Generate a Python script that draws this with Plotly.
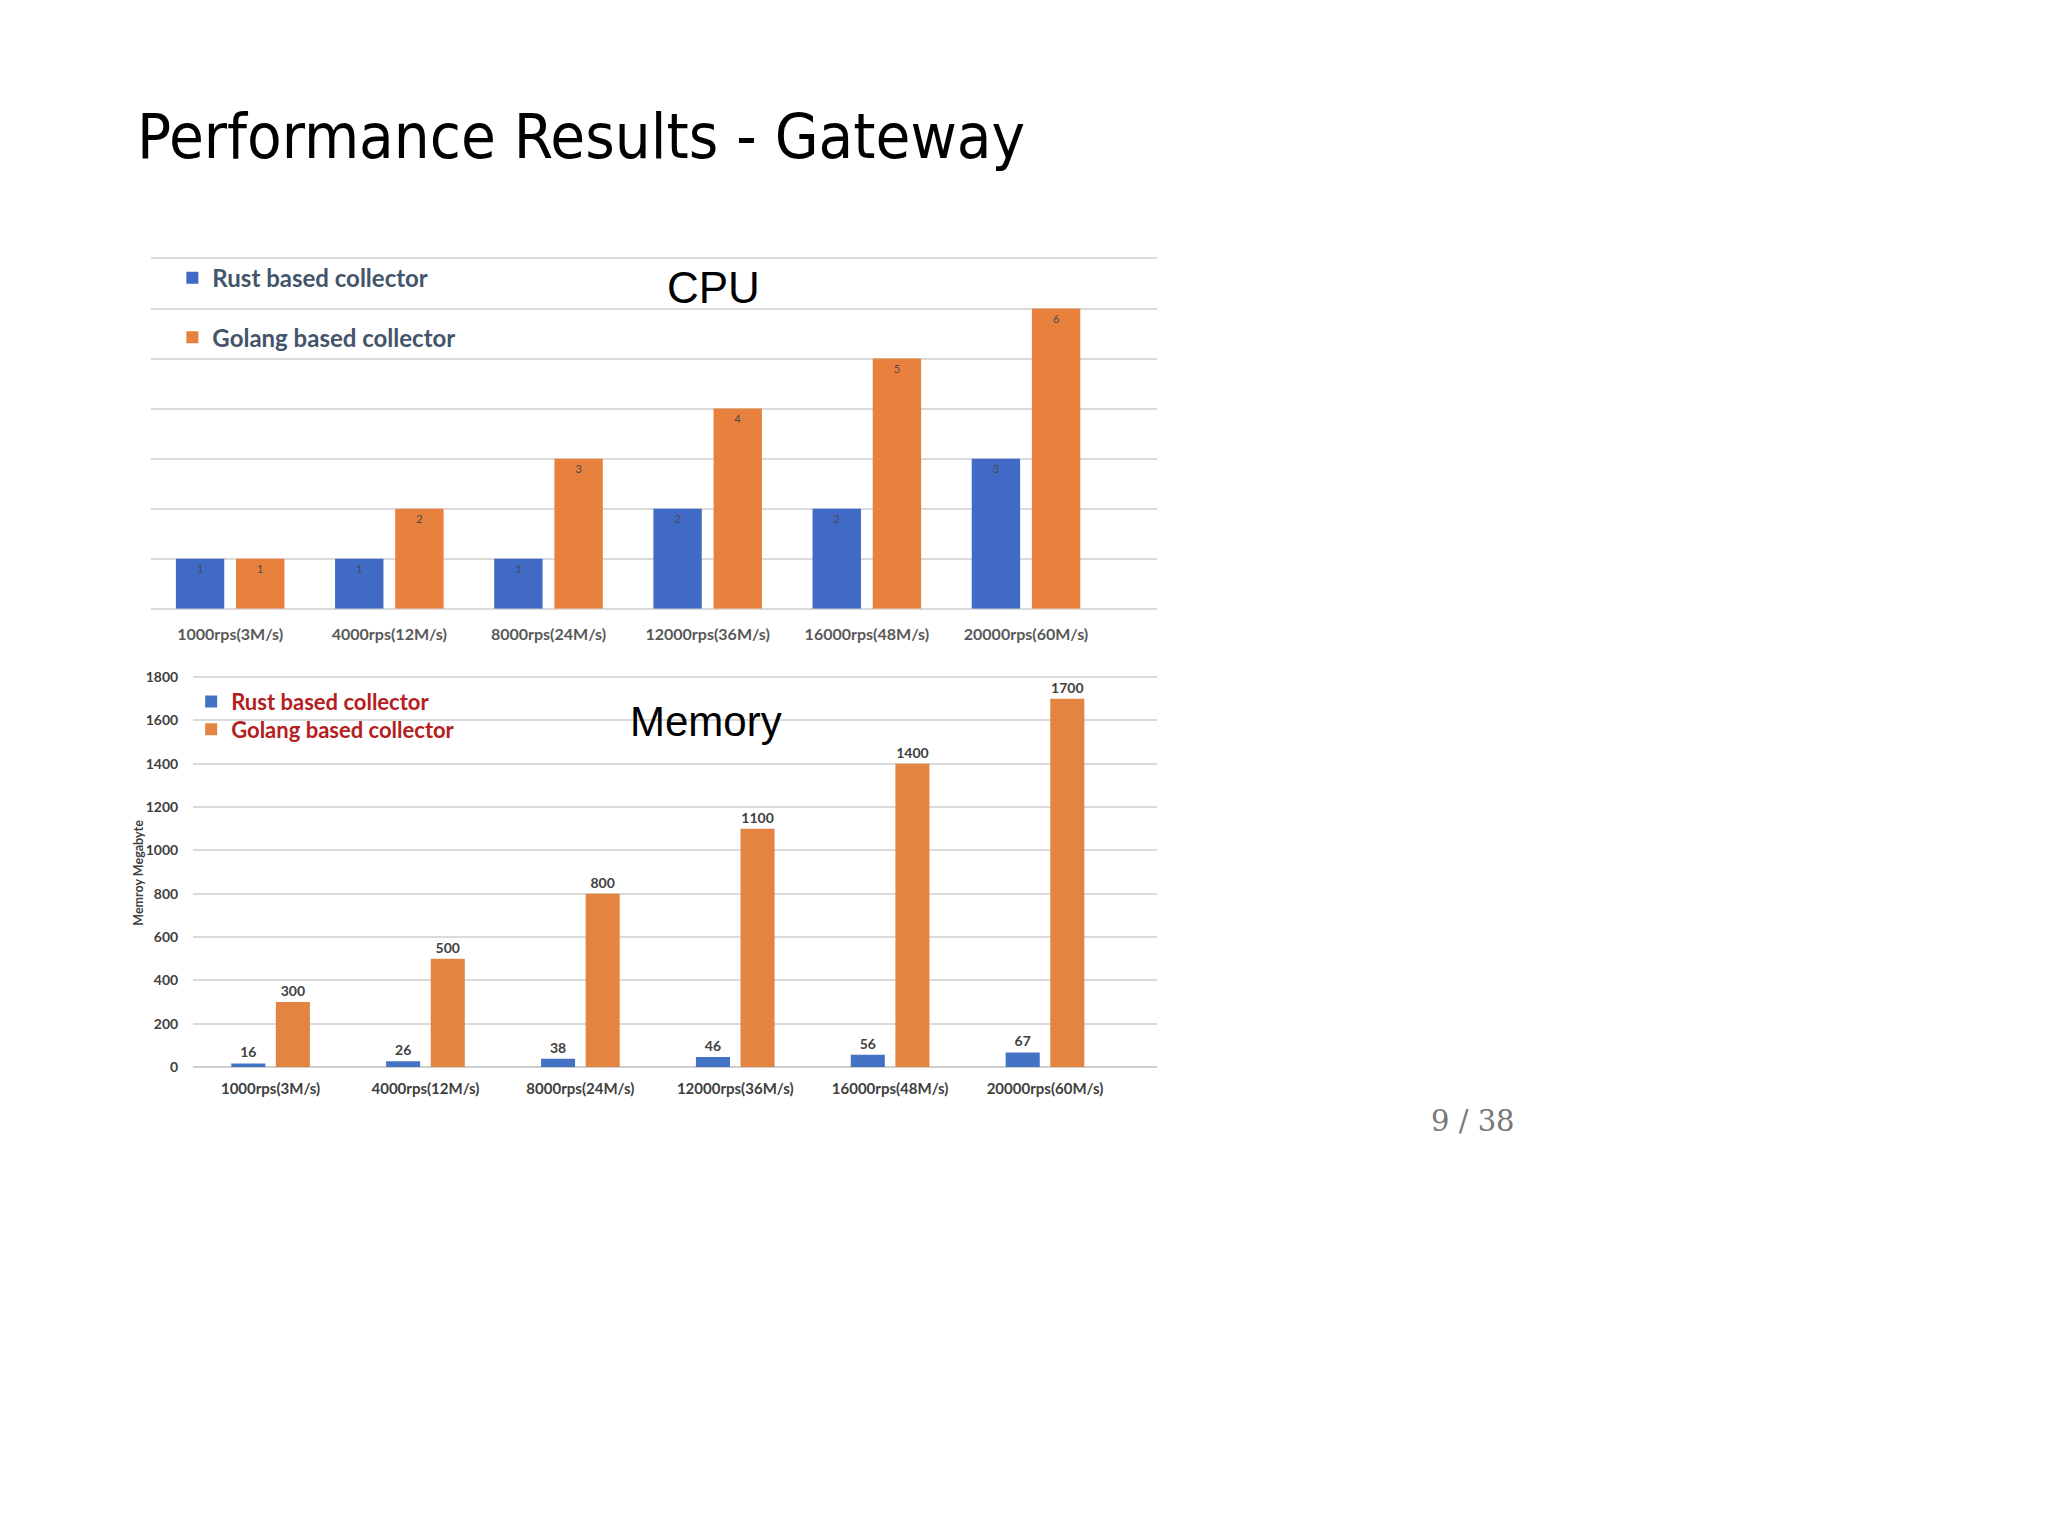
import plotly.graph_objects as go

categories = ["1000rps(3M/s)", "4000rps(12M/s)", "8000rps(24M/s)",
              "12000rps(36M/s)", "16000rps(48M/s)", "20000rps(60M/s)"]
cpu_rust = [1, 1, 1, 2, 2, 3]
cpu_golang = [1, 2, 3, 4, 5, 6]
mem_rust = [16, 26, 38, 46, 56, 67]
mem_golang = [300, 500, 800, 1100, 1400, 1700]
cpu_ticks = [0, 1, 2, 3, 4, 5, 6, 7]
mem_ticks = [0, 200, 400, 600, 800, 1000, 1200, 1400, 1600, 1800]

W, H = 2048, 1536
BODY = "Lato, 'Open Sans', sans-serif"

def px(x):
    return ((x - 8) / 1.01) / W

def py(y):
    return 1 - (y - 16) / H

fig = go.Figure()

# CPU chart
fig.add_trace(go.Bar(
    x=categories, y=cpu_rust, name="Rust based collector",
    xaxis="x", yaxis="y", legend="legend", showlegend=True,
    marker=dict(color="#4169C6", line=dict(width=0)),
    width=0.304, offset=-0.341,
    text=cpu_rust, textposition="inside", insidetextanchor="end",
    textfont=dict(size=11, color="#4a4a4a", family=BODY),
    textangle=0,
))
fig.add_trace(go.Bar(
    x=categories, y=cpu_golang, name="Golang based collector",
    xaxis="x", yaxis="y", legend="legend2", showlegend=True,
    marker=dict(color="#E8803E", line=dict(width=0)),
    width=0.304, offset=0.037,
    text=cpu_golang, textposition="inside", insidetextanchor="end",
    textfont=dict(size=11, color="#4a4a4a", family=BODY),
    textangle=0,
))

# Memory chart
fig.add_trace(go.Bar(
    x=categories, y=mem_rust, name="Rust based collector",
    xaxis="x2", yaxis="y2", legend="legend3", showlegend=True,
    marker=dict(color="#4472C4", line=dict(width=0)),
    width=0.22, offset=-0.254,
    text=mem_rust, textposition="outside", cliponaxis=False,
    textfont=dict(size=14, color="#404040", family=BODY, weight="bold"),
))
fig.add_trace(go.Bar(
    x=categories, y=mem_golang, name="Golang based collector",
    xaxis="x2", yaxis="y2", legend="legend4", showlegend=True,
    marker=dict(color="#E38540", line=dict(width=0)),
    width=0.22, offset=0.034,
    text=mem_golang, textposition="outside", cliponaxis=False,
    textfont=dict(size=14, color="#404040", family=BODY, weight="bold"),
))

grid = "#DADADA"
cpu_top = 7.1
cpu_unit = (615 - 260) / 7.02

def leg(x, y, size, color):
    return dict(
        x=px(x), y=py(y), xanchor="left", yanchor="middle", visible=True,
        bgcolor="rgba(0,0,0,0)", itemclick=False,
        font=dict(size=size, color=color, family=BODY, weight="bold"),
    )

fig.update_layout(
    width=W, height=H,
    margin=dict(l=0, r=0, t=0, b=0),
    paper_bgcolor="white", plot_bgcolor="white",
    barmode="overlay", showlegend=True,
    font=dict(family=BODY, color="#404040"),
    xaxis=dict(
        domain=[px(152), px(1168)], anchor="y", type="category",
        range=[-0.5, 5.82], showgrid=False, zeroline=False, showline=False,
        ticks="", ticklabelstandoff=14,
        tickfont=dict(size=16, color="#595959", family=BODY, weight="bold"),
    ),
    yaxis=dict(
        domain=[py(615), py(615 - cpu_top * cpu_unit)], anchor="x",
        range=[0, cpu_top],
        tickvals=cpu_ticks, showticklabels=False, showgrid=True,
        gridcolor=grid, gridwidth=2, zeroline=True, zerolinecolor=grid,
        zerolinewidth=2, showline=False,
    ),
    xaxis2=dict(
        domain=[px(195), px(1168)], anchor="y2", type="category",
        range=[-0.5, 5.72], showgrid=False, zeroline=False, showline=False,
        ticks="", ticklabelstandoff=11,
        tickfont=dict(size=15, color="#404040", family=BODY, weight="bold"),
    ),
    yaxis2=dict(
        domain=[py(1078), py(683)], anchor="x2", range=[0, 1805],
        tickvals=mem_ticks, showgrid=True, gridcolor=grid, gridwidth=1.5,
        zeroline=True, zerolinecolor="#CFCFCF", zerolinewidth=1.5,
        showline=False, ticks="", ticklabelstandoff=14,
        tickfont=dict(size=14, color="#404040", family=BODY, weight="bold"),
    ),
    legend=leg(174, 281, 24, "#44546A"),
    legend2=leg(174, 341, 24, "#44546A"),
    legend3=leg(193, 709, 22, "#B42020"),
    legend4=leg(193, 737, 22, "#B42020"),
    annotations=[
        dict(text="Performance Results - Gateway", x=px(136), y=py(138),
             xref="paper", yref="paper", xanchor="left", yanchor="middle",
             showarrow=False,
             font=dict(size=63, color="#000000",
                       family="'DejaVu Sans Condensed', 'DejaVu Sans', sans-serif")),
        dict(text="CPU", x=px(721), y=py(290), xref="paper", yref="paper",
             xanchor="center", yanchor="middle", showarrow=False,
             font=dict(size=44, color="#000000", family="'Liberation Sans', Arial, sans-serif")),
        dict(text="Memory", x=px(713), y=py(729), xref="paper", yref="paper",
             xanchor="center", yanchor="middle", showarrow=False,
             font=dict(size=42, color="#000000", family="'Liberation Sans', Arial, sans-serif")),
        dict(text="Memroy Megabyte", x=px(140), y=py(882), xref="paper", yref="paper",
             xanchor="center", yanchor="middle", showarrow=False, textangle=-90,
             font=dict(size=12.5, color="#404040", family=BODY, weight="bold")),
        dict(text="9 / 38", x=px(1488), y=py(1133), xref="paper", yref="paper",
             xanchor="center", yanchor="middle", showarrow=False,
             font=dict(size=29, color="#777777", family="'DejaVu Serif', serif")),
    ],
)

fig.write_html("out.html")
